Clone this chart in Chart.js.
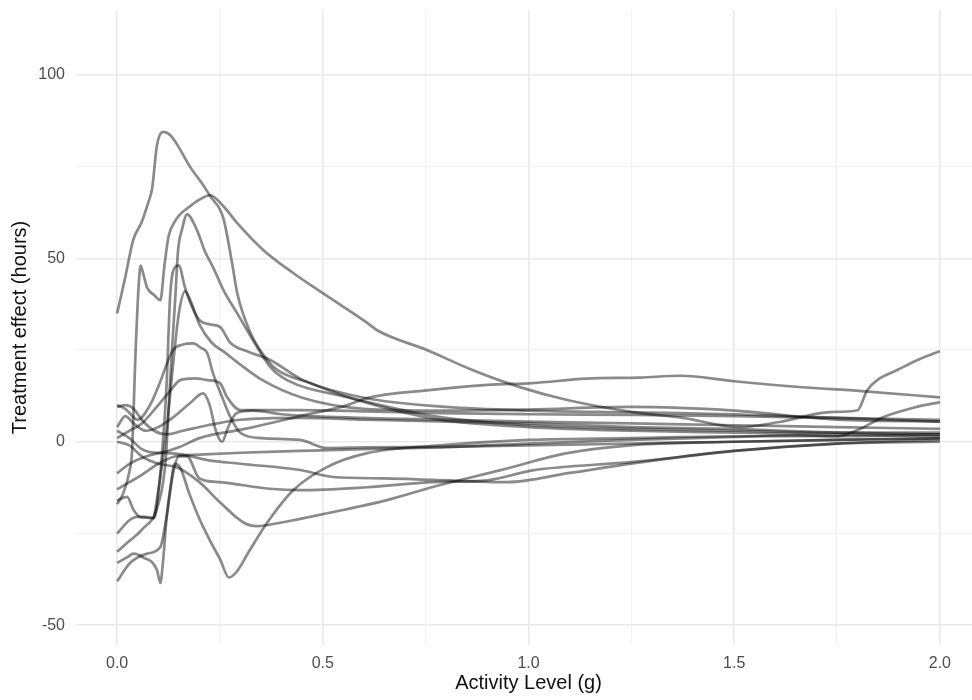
<!DOCTYPE html>
<html><head><meta charset="utf-8">
<script src="https://cdn.jsdelivr.net/npm/chart.js@4"></script>
<style>html,body{margin:0;padding:0;background:#fff;overflow:hidden}canvas{display:block}</style>
</head><body>
<canvas id="c" width="981" height="700"></canvas>
<script>
// ---- axis ticks ----
const xTickValues = [0, 0.25, 0.5, 0.75, 1, 1.25, 1.5, 1.75, 2];
const xTickLabels = {0: "0.0", 0.5: "0.5", 1: "1.0", 1.5: "1.5", 2: "2.0"};
const yTickValues = [-50, -25, 0, 25, 50, 75, 100];
const yTickLabels = {"-50": "-50", 0: "0", 50: "50", 100: "100"};

// ---- curves: [activity level (g), treatment effect (hours)] ----
const curve1 = [[0,35],[0.02,45],[0.039,55],[0.06,60],[0.075,65],[0.085,69],[0.097,81],[0.112,84.5],[0.13,83.5],[0.146,81],[0.177,75],[0.209,70],[0.226,67],[0.258,61],[0.279,49],[0.292,40.5],[0.323,30],[0.365,22.3],[0.389,19.6],[0.469,16],[0.583,11.4],[0.785,6],[1.0,4],[1.25,3],[1.5,2.5],[1.75,2],[2.0,1.5]];
const curve2 = [[0,-17],[0.015,-14],[0.03,-8],[0.036,-3],[0.045,25],[0.052,42],[0.057,48],[0.063,46],[0.073,42],[0.09,40],[0.105,38.6],[0.115,48],[0.125,56],[0.14,60],[0.153,62],[0.175,64],[0.2,66],[0.226,67.2],[0.26,64],[0.292,59.6],[0.355,52.3],[0.428,46],[0.5,40.5],[0.608,32.4],[0.632,30.4],[0.753,25],[0.865,19.5],[0.979,14.9],[1.094,11.4],[1.254,8.1],[1.375,6.5],[1.514,4],[1.61,5.4],[1.733,8.1],[1.8,8.6],[1.823,14],[1.85,17],[1.895,19.5],[1.95,22.5],[2.0,24.7]];
const curve3 = [[0,-30],[0.03,-27],[0.06,-24],[0.1,-17],[0.118,-5],[0.128,15],[0.136,30],[0.141,38.6],[0.148,52],[0.158,58],[0.17,62],[0.194,57.7],[0.213,52],[0.233,47.6],[0.26,41],[0.292,35],[0.33,27.7],[0.372,20.4],[0.413,16.8],[0.559,12.2],[0.785,6.7],[1.0,4.5],[1.25,3.5],[1.5,3],[1.75,2.5],[2.0,2.5]];
const curve4 = [[0,-25],[0.03,-21.4],[0.048,-20.5],[0.07,-20.5],[0.09,-20.8],[0.1,-14],[0.11,-2],[0.12,15],[0.129,40],[0.14,47.5],[0.15,48],[0.165,42],[0.185,36],[0.202,33],[0.225,32],[0.25,31.3],[0.275,27],[0.32,24.5],[0.372,22.3],[0.452,16.8],[0.6,12],[0.8,9.5],[1.0,8.5],[1.25,8],[1.5,7.5],[1.75,6.5],[2.0,5.5]];
const curve5 = [[0,-16],[0.024,-15],[0.04,-18.6],[0.056,-20.5],[0.088,-20.8],[0.095,-17],[0.105,-9.6],[0.12,3],[0.135,20],[0.15,35],[0.165,41],[0.18,38],[0.2,32],[0.23,27],[0.26,24.5],[0.3,21],[0.35,17],[0.45,12],[0.6,9],[0.8,8.5],[1.0,8.8],[1.25,9.5],[1.5,8.5],[1.75,6],[2.0,5.5]];
const curve6 = [[0,10],[0.02,9],[0.05,6],[0.08,10],[0.1,15],[0.136,25],[0.16,26.5],[0.185,26.8],[0.205,25.5],[0.219,24.2],[0.233,18.7],[0.258,11.4],[0.275,6.8],[0.3,2.4],[0.35,1],[0.445,0.5],[0.51,-1.7],[0.6,-1.5],[0.785,-1.4],[1.0,-1],[1.25,-0.5],[1.5,0],[1.75,0.5],[2.0,1]];
const curve7 = [[0,1],[0.03,3],[0.06,5],[0.1,10],[0.13,14],[0.153,16.8],[0.19,17.3],[0.219,16.8],[0.25,16],[0.267,12.2],[0.3,8.6],[0.445,8.6],[0.6,8.3],[0.785,7.8],[1.0,7.5],[1.25,7.3],[1.5,7],[1.75,6.5],[2.0,6]];
const curve8 = [[0,4],[0.02,7],[0.04,5],[0.07,3],[0.1,4],[0.14,7],[0.177,10.5],[0.209,13.2],[0.225,10],[0.24,3],[0.255,0],[0.27,4],[0.29,7.8],[0.33,8.5],[0.4,7.5],[0.6,6.5],[0.8,6],[1.0,5.5],[1.25,5],[1.5,4.5],[1.75,4],[2.0,3.5]];
const curve9 = [[0,3],[0.03,1],[0.06,-2],[0.1,-3],[0.15,-1.5],[0.2,1],[0.31,3.5],[0.445,7],[0.56,10],[0.607,11.9],[0.753,14],[0.9,15.5],[1.01,16],[1.14,17.2],[1.27,17.5],[1.37,18],[1.5,16.5],[1.65,15],[1.81,13.8],[2.0,12.1]];
const curve10 = [[0,-33],[0.024,-31.5],[0.04,-30.5],[0.063,-31.5],[0.097,-35],[0.105,-38.5],[0.112,-32],[0.12,-21],[0.13,-12],[0.14,-6],[0.153,-7],[0.175,-14],[0.2,-21],[0.226,-27],[0.25,-32],[0.272,-37],[0.29,-35.5],[0.32,-30],[0.365,-22],[0.428,-13.2],[0.51,-6.9],[0.608,-3.1],[0.785,-1],[1.0,0.5],[1.25,1],[1.5,1.5],[1.75,1.5],[2.0,2]];
const curve11 = [[0,0],[0.03,-1],[0.06,-4],[0.1,-6],[0.146,-7],[0.2,-11],[0.25,-16.5],[0.307,-22],[0.34,-23],[0.365,-22.7],[0.445,-21],[0.549,-18.6],[0.656,-15.9],[0.785,-11.8],[0.93,-7.8],[1.094,-3.1],[1.254,-0.9],[1.5,0],[1.75,0.5],[2.0,1]];
const curve12 = [[0,-38],[0.032,-33],[0.073,-30.5],[0.105,-28.7],[0.12,-20.5],[0.136,-8.6],[0.15,-4],[0.17,-4],[0.2,-10],[0.25,-11],[0.37,-12.8],[0.445,-13.2],[0.607,-12.4],[0.768,-11],[0.9,-10.5],[1.01,-7.8],[1.254,-5.5],[1.5,-2.5],[1.75,-0.5],[2.0,0.5]];
const curve13 = [[0,-13],[0.03,-11],[0.06,-9],[0.1,-6],[0.14,-4],[0.2,-3.5],[0.3,-3],[0.445,-2.5],[0.6,-2],[0.8,-1.5],[1.0,-0.5],[1.25,0.5],[1.5,1.3],[1.65,1.8],[1.75,1.5],[1.8,3.2],[1.862,6.7],[1.944,9.5],[2.0,10.8]];
const curve14 = [[0,9.5],[0.02,10],[0.04,9],[0.06,6],[0.09,3],[0.12,2],[0.16,3],[0.22,4.5],[0.3,6],[0.445,6.5],[0.6,6],[0.8,5.5],[1.0,5],[1.25,4],[1.5,3.5],[1.75,2.5],[2.0,2]];
const curve15 = [[0,-8.6],[0.03,-6],[0.07,-4],[0.11,-3],[0.16,-3.5],[0.22,-5],[0.3,-6],[0.445,-7.7],[0.525,-9.6],[0.65,-10],[0.768,-10.4],[0.948,-11],[1.1,-8.5],[1.254,-5.9],[1.5,-2.5],[1.75,-0.5],[2.0,0]];

const curves = [curve1,curve2,curve3,curve4,curve5,curve6,curve7,curve8,curve9,curve10,curve11,curve12,curve13,curve14,curve15];

const FONT = "'Liberation Sans', Arial, Helvetica, sans-serif";
const MAJOR = '#e9e9e9', MINOR = '#f2f2f2';

new Chart(document.getElementById('c'), {
  type: 'line',
  data: {
    datasets: curves.map(c => ({
      data: c.map(p => ({x: p[0], y: p[1]})),
      borderColor: 'rgba(0,0,0,0.46)',
      borderWidth: 2.7,
      pointRadius: 0,
      cubicInterpolationMode: 'monotone',
      fill: false
    }))
  },
  options: {
    responsive: false,
    animation: false,
    devicePixelRatio: 1,
    layout: {padding: {top: 10, left: 0, right: 0, bottom: 0}},
    plugins: {legend: {display: false}, tooltip: {enabled: false}},
    scales: {
      x: {
        type: 'linear', min: -0.1, max: 2.1,
        afterBuildTicks: a => { a.ticks = xTickValues.map(v => ({value: v})); },
        afterFit: s => { s.height = 55; s.paddingLeft = 0; s.paddingRight = 0; },
        ticks: {
          autoSkip: false, maxRotation: 0, padding: 9,
          color: '#4d4d4d', font: {family: FONT, size: 16},
          callback: v => (xTickLabels[v] !== undefined ? xTickLabels[v] : '')
        },
        grid: {
          drawTicks: false,
          color: c => (xTickLabels[c.tick.value] !== undefined ? MAJOR : MINOR),
          lineWidth: c => (xTickLabels[c.tick.value] !== undefined ? 1.6 : 1.2)
        },
        border: {display: false},
        title: {display: true, text: 'Activity Level (g)', color: '#111',
          font: {family: FONT, size: 20}, padding: {top: 0, bottom: 5}}
      },
      y: {
        type: 'linear', min: -55.4, max: 117.7,
        afterBuildTicks: a => { a.ticks = yTickValues.map(v => ({value: v})); },
        afterFit: s => { s.width = 76; s.paddingTop = 0; s.paddingBottom = 0; },
        ticks: {
          autoSkip: false, padding: 11,
          color: '#4d4d4d', font: {family: FONT, size: 16},
          callback: v => (yTickLabels[v] !== undefined ? yTickLabels[v] : '')
        },
        grid: {
          drawTicks: false,
          color: c => (yTickLabels[c.tick.value] !== undefined ? MAJOR : MINOR),
          lineWidth: c => (yTickLabels[c.tick.value] !== undefined ? 1.6 : 1.2)
        },
        border: {display: false},
        title: {display: true, text: 'Treatment effect (hours)', color: '#111',
          font: {family: FONT, size: 20}, padding: {top: 8, bottom: 0}}
      }
    }
  }
});
</script>
</body></html>
